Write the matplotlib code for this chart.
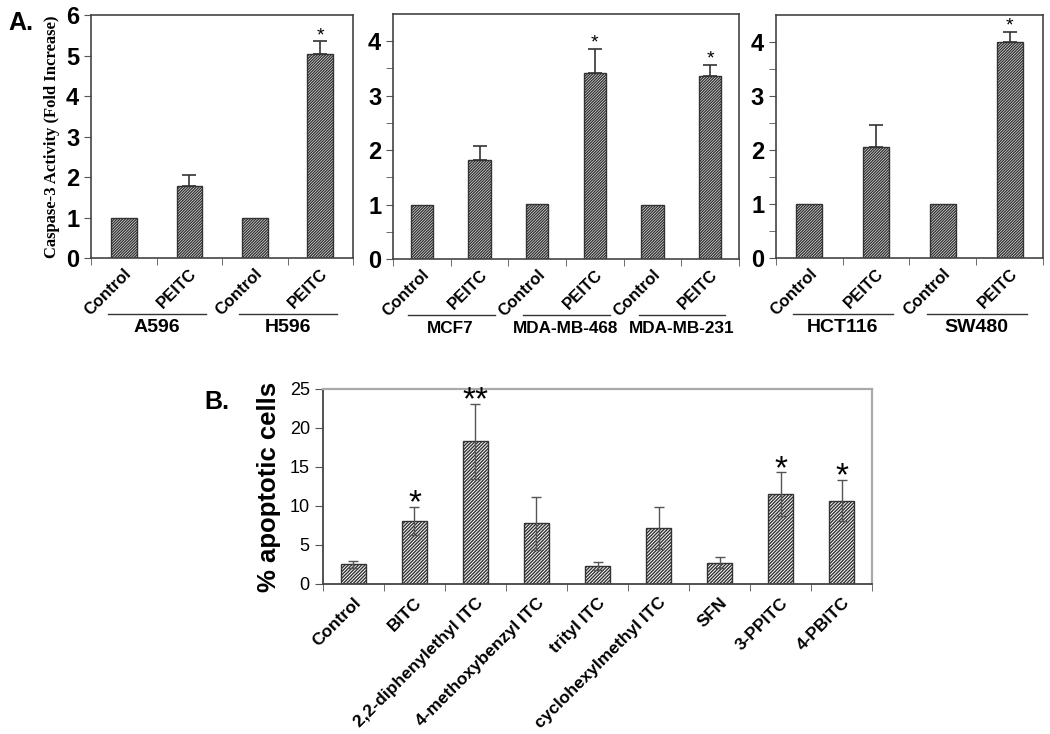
import numpy as np
import matplotlib.pyplot as plt

plt.rcParams['font.family'] = ['Liberation Sans', 'DejaVu Sans']
plt.rcParams['hatch.linewidth'] = 1.0

# ---- panel A data ----
a_treat = ['Control', 'PEITC']
a1_groups = ['A596', 'H596']
a1_vals = [1.0, 1.77, 1.0, 5.05]
a1_err = [0, 0.29, 0, 0.30]
a1_star = [0, 0, 0, 1]

a2_groups = ['MCF7', 'MDA-MB-468', 'MDA-MB-231']
a2_vals = [1.0, 1.82, 1.01, 3.42, 1.0, 3.36]
a2_err = [0, 0.25, 0, 0.44, 0, 0.21]
a2_star = [0, 0, 0, 1, 0, 1]

a3_groups = ['HCT116', 'SW480']
a3_vals = [1.0, 2.05, 1.0, 4.0]
a3_err = [0, 0.42, 0, 0.19]
a3_star = [0, 0, 0, 1]

# ---- panel B data ----
b_labels = ['Control', 'BITC', '2,2-diphenylethyl ITC', '4-methoxybenzyl ITC',
            'trityl ITC', 'cyclohexylmethyl ITC', 'SFN', '3-PPITC', '4-PBITC']
b_vals = [2.55, 8.1, 18.3, 7.8, 2.3, 7.2, 2.75, 11.5, 10.7]
b_err = [0.45, 1.8, 4.8, 3.4, 0.5, 2.7, 0.65, 2.8, 2.6]
b_star = ['', '*', '**', '', '', '', '', '*', '*']

fig = plt.figure(figsize=(10.5, 7.34), dpi=100)


def panel_a(rect, vals, err, stars, groups, ymax, minor, gsize, ylabel=None):
    ax = fig.add_axes(rect)
    n = len(vals)
    x = np.arange(n) + 0.5
    plt.rcParams['hatch.color'] = '#111111'
    ax.bar(x, vals, width=0.39, color='white', edgecolor='#333333',
           linewidth=1.0, hatch='////////////')
    up = np.array(err)
    has = up > 0
    ax.errorbar(x[has], np.array(vals)[has], yerr=[np.zeros(has.sum()), up[has]],
                fmt='none', ecolor='#333333', elinewidth=1.2, capsize=5, capthick=1.2)
    for xi, v, e, s in zip(x, vals, err, stars):
        if s:
            ax.annotate('*', (xi, v + e), xytext=(0, -2), textcoords='offset points',
                        ha='center', va='bottom', fontsize=14)
    ax.set_xlim(0, n)
    ax.set_ylim(0, ymax)
    ax.set_yticks(range(int(ymax) + 1))
    if minor:
        ax.set_yticks(np.arange(0.5, ymax, 1.0), minor=True)
    ax.set_xticks(x)
    ax.set_xticklabels(a_treat * (n // 2), rotation=45, ha='right',
                       rotation_mode='anchor', fontsize=12, fontweight='bold')
    ax.set_xticks(np.arange(n + 1), minor=True)
    ax.tick_params(axis='x', which='major', length=0, pad=6)
    ax.tick_params(axis='x', which='minor', length=5, color='#555555')
    ax.tick_params(axis='y', which='both', length=5, color='#555555')
    ax.tick_params(axis='y', labelsize=17)
    for lab in ax.get_yticklabels():
        lab.set_fontweight('bold')
    for sp in ax.spines.values():
        sp.set_color('#444444')
        sp.set_linewidth(1.2)
    tr = ax.get_xaxis_transform()
    for i, g in enumerate(groups):
        ax.plot([2 * i + 0.26, 2 * i + 1.76], [-0.23, -0.23], color='#333333',
                lw=1.0, transform=tr, clip_on=False)
        ax.text(2 * i + 1.0, -0.285, g, transform=tr, ha='center', va='center',
                fontsize=gsize, fontweight='bold')
    if ylabel:
        ax.set_ylabel(ylabel, family=['Liberation Serif'], fontweight='bold',
                      fontsize=12, labelpad=4)
    return ax


panel_a([0.0867, 0.6485, 0.2495, 0.331], a1_vals, a1_err, a1_star, a1_groups,
        6, False, 14, 'Caspase-3 Activity (Fold Increase)')
panel_a([0.3743, 0.6471, 0.3295, 0.3338], a2_vals, a2_err, a2_star, a2_groups,
        4.5, True, 12.3)
panel_a([0.739, 0.6485, 0.2543, 0.331], a3_vals, a3_err, a3_star, a3_groups,
        4.5, True, 14)

# ---- panel B ----
axb = fig.add_axes([0.3076, 0.2044, 0.5229, 0.2657])
nb = len(b_vals)
xb = np.arange(nb) + 0.5
plt.rcParams['hatch.color'] = '#444444'
axb.bar(xb, b_vals, width=0.41, color='white', edgecolor='#333333',
        linewidth=1.0, hatch='//////////')
axb.errorbar(xb, b_vals, yerr=b_err, fmt='none', ecolor='#555555',
             elinewidth=1.0, capsize=3.5, capthick=1.0)
for xi, v, e, s in zip(xb, b_vals, b_err, b_star):
    if s:
        axb.annotate(s, (xi, v + e), xytext=(0, -9), textcoords='offset points',
                     ha='center', va='bottom', fontsize=24)
axb.set_xlim(0, nb)
axb.set_ylim(0, 25)
axb.set_yticks(range(0, 26, 5))
axb.tick_params(axis='y', labelsize=13, length=6, color='#555555')
axb.set_xticks(xb)
axb.set_xticklabels(b_labels, rotation=45, ha='right', rotation_mode='anchor',
                    fontsize=12.5, fontweight='bold')
axb.set_xticks(np.arange(nb + 1), minor=True)
axb.tick_params(axis='x', which='major', length=0, pad=8)
axb.tick_params(axis='x', which='minor', length=5, color='#555555')
axb.spines['left'].set_color('#444444')
axb.spines['bottom'].set_color('#444444')
axb.spines['left'].set_linewidth(1.3)
axb.spines['bottom'].set_linewidth(1.3)
axb.spines['top'].set_color('#aaaaaa')
axb.spines['right'].set_color('#aaaaaa')
axb.spines['top'].set_linewidth(1.6)
axb.spines['right'].set_linewidth(1.6)
axb.set_ylabel('% apoptotic cells', fontsize=18.5, fontweight='bold', labelpad=6)

fig.text(0.008, 0.985, 'A.', fontsize=18, fontweight='bold', va='top')
fig.text(0.195, 0.468, 'B.', fontsize=18, fontweight='bold', va='top')

fig.savefig('out.png', dpi=100)
